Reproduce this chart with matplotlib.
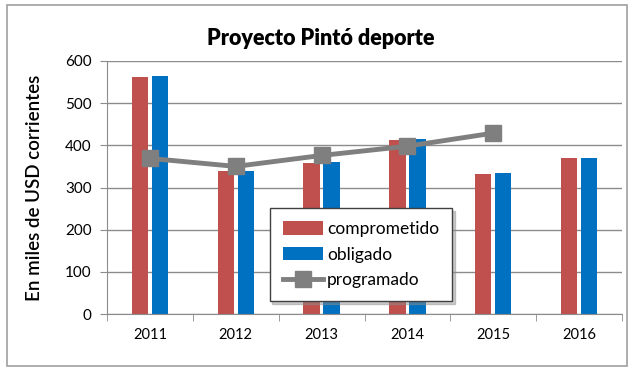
import numpy as np
import matplotlib
matplotlib.use("Agg")
import matplotlib.pyplot as plt
from matplotlib.patches import Rectangle

plt.rcParams['font.family'] = ['Lato', 'DejaVu Sans']

years = ['2011', '2012', '2013', '2014', '2015', '2016']
comprometido = [562, 338, 357, 412, 333, 369]
obligado = [564, 339, 360, 414, 334, 371]
programado = [369, 350, 376, 398, 429]

RED = '#C0504D'
BLUE = '#0070C0'
GRAY = '#7F7F7F'

fig = plt.figure(figsize=(6.29, 3.67), dpi=100)
ax = fig.add_axes([0.170, 0.1444, 0.819, 0.6894])

x = np.arange(len(years))
w = 0.19
b1 = ax.bar(x - 0.117, comprometido, w, color=RED, label='comprometido', zorder=2)
b2 = ax.bar(x + 0.117, obligado, w, color=BLUE, label='obligado', zorder=2)
l1, = ax.plot(x[:len(programado)], programado, color=GRAY, lw=3.5, marker='s',
              markersize=11, label='programado', zorder=3)

ax.set_xlim(-0.5, len(years) - 0.5)
ax.set_ylim(0, 600)
ax.set_yticks(range(0, 601, 100))
ax.set_xticks(x)
ax.set_xticklabels(years)
ax.set_xticks(np.arange(-0.5, len(years), 1), minor=True)
ax.tick_params(axis='x', which='major', length=0, pad=10, labelsize=10.5)
ax.tick_params(axis='x', which='minor', length=5, color='#8C8C8C', direction='out')
ax.tick_params(axis='y', length=5, color='#8C8C8C', labelsize=11, pad=6)
ax.yaxis.grid(True, color='#8C8C8C', lw=1)
ax.set_axisbelow(True)
for s in ['top', 'right']:
    ax.spines[s].set_visible(False)
ax.spines['left'].set_color('#8C8C8C')
ax.spines['bottom'].set_color('#8C8C8C')

ax.set_ylabel('En miles de USD corrientes', fontsize=13.5, fontweight='semibold',
              labelpad=16)
fig.text(0.51, 0.895, 'Proyecto Pintó deporte', ha='center', va='center',
         fontsize=15.5, fontweight='heavy')

leg = ax.legend([b1, b2, l1], ['comprometido', 'obligado', 'programado'],
                loc='center', bbox_to_anchor=(0.493, 0.235),
                fontsize=12.5, frameon=True, fancybox=False,
                shadow={'color': '0.55', 'alpha': 0.45}, edgecolor='#404040',
                handlelength=2.3, handleheight=0.8, borderpad=0.75,
                labelspacing=0.55, handletextpad=0.25, borderaxespad=0)
leg.get_frame().set_linewidth(1.0)

fig.patches.append(Rectangle((7 / 629, 1 / 367), 620 / 629, 361 / 367,
                             transform=fig.transFigure, fill=False,
                             edgecolor='#A0A0A0', lw=1.2))

fig.savefig('out.png', dpi=100)
